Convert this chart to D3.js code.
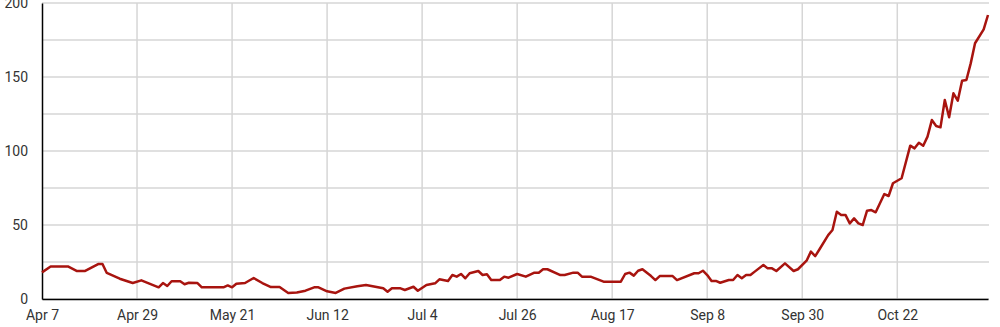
<!DOCTYPE html>
<html>
<head>
<meta charset="utf-8">
<script src="https://cdn.jsdelivr.net/npm/d3@7"></script>
<style>
  html, body { margin: 0; padding: 0; background: #fff; }
  svg { display: block; font-family: Roboto, "Noto Sans", sans-serif; }
</style>
</head>
<body>
<svg id="chart" width="1000" height="327"></svg>
<script>
// Day offsets from the start date and the series values
const startDate = "2020-04-07";
const endDate = "2020-11-12";
const dayOffsets = [0, 2, 6, 8, 10, 13, 14, 15, 18, 21, 23, 27, 28, 29, 30, 32, 33, 34, 36, 37,
  42, 43, 44, 45, 47, 49, 51, 53, 55, 57, 59, 61, 63, 64, 66, 68, 70, 73, 75, 79,
  80, 81, 83, 84, 86, 87, 89, 91, 92, 94, 95, 96, 97, 98, 99, 101, 102, 103, 104, 106,
  107, 108, 110, 112, 114, 115, 116, 117, 120, 121, 123, 124, 125, 127, 130, 134, 135, 136, 137, 138,
  139, 141, 142, 143, 146, 147, 151, 152, 153, 154, 155, 156, 157, 159, 160, 161, 162, 163, 164, 165,
  167, 168, 169, 170, 172, 174, 175, 177, 178, 179, 180, 182, 183, 184, 185, 186, 187, 188, 189, 190,
  191, 192, 193, 195, 196, 197, 199, 201, 202, 203, 204, 205, 206, 207, 208, 209, 210, 211, 212, 213,
  214, 215, 216, 218, 219];
const values = [18, 22, 22, 19, 19, 23.6, 23.6, 17.6, 13.7, 10.8, 12.6, 7.9, 10.8, 8.8, 12, 12, 10, 11, 10.8, 7.9,
  7.9, 9.2, 7.9, 10.3, 10.8, 14.2, 10.8, 8.1, 8.1, 4.1, 4.4, 5.6, 7.9, 7.9, 5.2, 4.1, 7, 8.6, 9.5, 7.2,
  4.9, 7.2, 7.2, 6.1, 8.3, 5.6, 9.5, 10.6, 13.3, 12.2, 16.2, 15.1, 16.9, 14, 17.4, 18.9, 16.2, 16.7, 12.8, 12.8,
  15.1, 14.4, 16.9, 15.1, 17.8, 17.8, 20.1, 20.1, 16.2, 16.2, 17.8, 17.8, 15.1, 15.1, 11.7, 11.7, 16.9, 17.8, 15.8, 19.1,
  20.1, 15.5, 12.8, 15.5, 15.5, 12.8, 17.4, 17.4, 19.1, 16.2, 12.2, 12.2, 11, 12.8, 12.8, 16.2, 14, 16.2, 16.2, 18.5,
  23, 20.7, 20.7, 18.9, 24.1, 18.9, 20.1, 25.9, 32, 29, 33.6, 43.2, 46.6, 59, 56.8, 56.8, 51.1, 54.5, 51.1, 50,
  59.7, 60.1, 58.6, 70.9, 69.6, 78.2, 81.6, 103.6, 101.8, 105.6, 103.6, 109.7, 120.9, 116.9, 116, 134.5, 122.8, 139, 134, 147.5,
  148, 159.2, 172.8, 182.2, 191.9];
const yTicks = [0, 50, 100, 150, 200];
const yGrid = [0, 25, 50, 75, 100, 125, 150, 175, 200];
const xTickStepDays = 22;

const svg = d3.select("#chart");
const margin = { left: 42, right: 12, top: 3, bottom: 28 };
const W = 1000, H = 327;

const parse = d3.utcParse("%Y-%m-%d");
const t0 = parse(startDate), t1 = parse(endDate);
const data = dayOffsets.map((d, i) => ({ date: d3.utcDay.offset(t0, d), value: values[i] }));

const x = d3.scaleUtc().domain([t0, t1]).range([margin.left, W - margin.right]);
const y = d3.scaleLinear().domain([0, 200]).range([H - margin.bottom, margin.top]);

const xTicks = d3.utcDay.every(1).range(t0, d3.utcDay.offset(t1, 1)).filter((d, i) => i % xTickStepDays === 0);

// horizontal gridlines
svg.append("g")
  .selectAll("line").data(yGrid).join("line")
  .attr("x1", margin.left).attr("x2", W - margin.right + 1)
  .attr("y1", d => y(d)).attr("y2", d => y(d))
  .attr("stroke", "#d6d6d6").attr("stroke-width", 1.5);

// vertical gridlines
svg.append("g")
  .selectAll("line").data(xTicks.slice(1)).join("line")
  .attr("x1", d => x(d)).attr("x2", d => x(d))
  .attr("y1", margin.top).attr("y2", y(0))
  .attr("stroke", "#d6d6d6").attr("stroke-width", 1.5);

// y axis
const yAxis = svg.append("g")
  .attr("transform", `translate(${margin.left},0)`)
  .call(d3.axisLeft(y).tickValues(yTicks).tickSize(0).tickPadding(14));
yAxis.select(".domain").attr("stroke", "#000").attr("stroke-width", 1.5);
yAxis.selectAll("text").attr("font-size", 14).attr("fill", "#333").attr("font-family", "Roboto");

// x axis
const xAxis = svg.append("g")
  .attr("transform", `translate(0,${y(0)})`)
  .call(d3.axisBottom(x).tickValues(xTicks).tickFormat(d3.utcFormat("%b %-d")).tickSize(0).tickPadding(11));
xAxis.select(".domain").attr("stroke", "#000").attr("stroke-width", 1.5);
xAxis.selectAll("text").attr("font-size", 14).attr("fill", "#333").attr("font-family", "Roboto");

// line
svg.append("path")
  .datum(data)
  .attr("fill", "none")
  .attr("stroke", "#a8140f")
  .attr("stroke-width", 2.5)
  .attr("stroke-linejoin", "round")
  .attr("d", d3.line().x(d => x(d.date)).y(d => y(d.value)));
</script>
</body>
</html>
